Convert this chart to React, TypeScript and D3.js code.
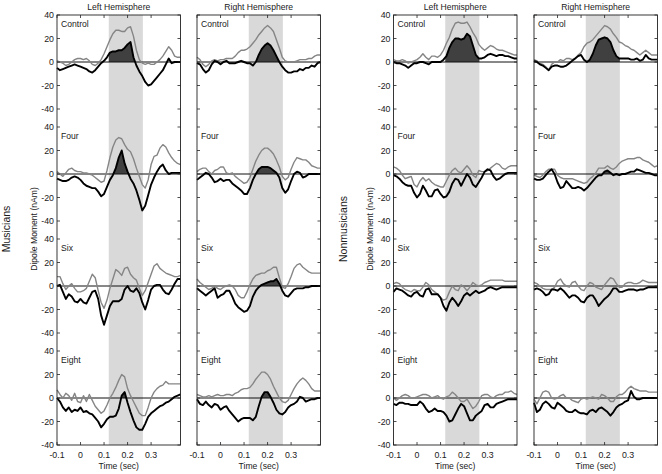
import React from "react";
import * as d3 from "d3";

// ---------- labels / ticks ----------
const groups = ["Musicians", "Nonmusicians"];
const hemispheres = ["Left Hemisphere", "Right Hemisphere"];
const conditions = ["Control", "Four", "Six", "Eight"];
const yTicks = [40, 20, 0, -20, -40];
const xTicks = [-0.1, 0, 0.1, 0.2, 0.3];
const shadeWindow = [0.12, 0.265];
const timeStart = -0.1;
const timeStep = 0.0125;
const timeEnd = 0.425;

// ---------- data (nAm), sampled every 12.5 ms from -0.1 s ----------
// Musicians, left hemisphere
const musLControlGray = [1,0,-1,-3,-2,0,2,3,3,2,3,1,-2,-3,-1,2,7,13,19,24,27,27,26,26,29,30,22,10,2,-1,-2,-1,-2,-2,0,2,5,9,13,10,5,4,4];
const musLControlBlack = [-5,-7,-6,-5,-4,-3,-2,-3,-4,-5,-6,-8,-9,-7,-4,-1,1,4,8,9,9,10,10,12,15,17,4,-3,-8,-12,-17,-20,-19,-16,-13,-10,-7,-2,3,-1,0,0,0];
const musLFourGray = [2,0,-2,1,4,5,3,2,2,1,1,0,-1,-3,-5,-7,-6,3,14,23,29,31,30,25,21,19,13,5,-2,-9,-12,-5,8,15,16,22,25,23,18,14,11,9,8];
const musLFourBlack = [-4,-5,-6,-6,-5,-3,-2,-3,-5,-8,-10,-11,-12,-12,-15,-19,-17,-11,-5,-1,5,14,20,9,2,-4,-8,-14,-22,-31,-27,-18,-9,-3,2,6,8,3,0,1,1,1,1];
const musLSixGray = [8,8,2,-3,0,2,-2,-5,-5,-4,-2,4,10,7,-4,-14,-19,-12,-2,6,14,12,9,15,16,10,7,5,-2,-8,-4,3,10,17,19,15,13,11,10,9,8,8,9];
const musLSixBlack = [0,1,-5,-11,-7,-9,-13,-14,-11,-14,-15,-10,-5,-4,-11,-25,-33,-25,-17,-13,-13,-13,-11,-3,0,-4,-5,-2,-6,-14,-20,-12,-3,0,1,1,-3,-6,-7,-3,2,6,6];
const musLEightGray = [7,3,0,4,2,-2,4,-3,-4,2,-3,3,-2,-7,-10,-13,-11,-6,0,4,9,15,20,18,8,2,-3,-8,-13,-15,-15,-8,0,5,8,10,11,14,12,12,12,12,12];
const musLEightBlack = [0,-3,-8,-11,-8,-12,-10,-11,-8,-12,-11,-13,-14,-17,-20,-25,-22,-18,-16,-16,-15,-9,2,5,-4,-12,-19,-25,-27,-27,-22,-16,-13,-11,-9,-7,-6,-4,-3,-1,1,2,3];
// Musicians, right hemisphere
const musRControlGray = [4,2,-2,-4,-2,1,2,1,2,2,3,3,3,5,8,10,10,11,13,16,19,23,26,29,31,29,26,19,12,4,1,0,0,0,1,2,2,2,3,3,5,6,6];
const musRControlBlack = [-1,-2,-6,-9,-7,-2,1,0,-2,0,1,-1,-1,-1,0,1,0,-1,-1,-3,0,6,11,14,16,14,10,5,0,-4,-7,-9,-9,-8,-8,-6,-7,-5,-5,-3,-4,-1,0];
const musRFourGray = [2,4,5,5,2,0,3,4,6,6,1,0,1,-2,-4,-6,-8,-7,-3,4,11,16,20,22,22,20,17,12,6,-2,-5,-3,4,10,14,13,12,12,10,7,6,5,5];
const musRFourBlack = [-5,-3,-1,1,0,-3,-7,-6,-4,-6,-5,-5,-8,-10,-12,-14,-17,-17,-12,-5,0,4,6,6,6,5,3,1,-3,-12,-16,-13,-6,0,2,1,-3,-2,0,0,0,0,0];
const musRSixGray = [6,3,1,-1,-3,-2,0,-2,-3,-1,0,1,0,-3,-8,-10,-10,-5,1,6,9,10,11,11,13,14,16,16,7,-1,-2,2,8,15,18,19,16,14,12,11,11,11,11];
const musRSixBlack = [-2,-4,-6,-8,-6,-4,-2,-10,-8,-7,-4,-4,-9,-15,-18,-20,-22,-21,-17,-9,-4,-1,1,2,3,4,4,6,2,-4,-8,-9,-6,-3,-2,-2,-2,-1,-1,0,0,0,0];
const musREightGray = [3,2,1,1,2,1,2,3,2,2,3,3,2,4,5,7,8,8,9,12,16,19,22,22,20,16,10,5,0,-3,-4,-2,3,8,12,15,17,15,12,8,6,6,6];
const musREightBlack = [-1,-5,-6,-3,-6,-8,-5,-6,-10,-8,-7,-11,-14,-17,-20,-18,-17,-17,-17,-19,-16,-7,1,5,5,1,-4,-10,-13,-14,-12,-8,-6,-5,-3,1,0,-3,-2,-1,-1,0,0];
// Nonmusicians, left hemisphere
const nonLControlGray = [2,1,1,2,1,-1,0,1,2,4,7,4,2,5,5,4,6,10,16,21,28,33,34,33,33,34,30,25,21,15,12,10,12,14,13,11,10,10,9,8,7,6,6];
const nonLControlBlack = [0,-1,-1,-2,-3,-5,-3,-1,-1,0,0,-1,-2,0,0,0,0,2,5,12,17,20,20,19,20,24,22,14,6,3,3,4,6,7,6,5,6,6,5,5,4,3,3];
const nonLFourGray = [6,5,3,-1,-4,-3,-2,-9,-11,-6,-3,-6,-4,-7,-9,-10,-11,-11,-6,-1,3,5,2,1,4,7,4,-1,-3,3,2,2,3,5,7,9,8,5,4,6,7,7,7];
const nonLFourBlack = [-1,-2,-4,-7,-9,-10,-10,-16,-20,-17,-10,-14,-19,-19,-14,-13,-17,-20,-19,-15,-8,-4,-5,-10,-5,0,-3,-9,-11,-7,-3,2,4,3,-2,-5,-4,-2,0,1,1,1,1];
const nonLSixGray = [2,3,2,-1,-3,-4,-5,-3,-4,-4,-1,3,1,-3,-5,-7,-10,-12,-11,-5,0,-3,-4,1,-1,-4,-1,3,1,0,1,3,4,5,5,5,5,5,4,4,4,4,4];
const nonLSixBlack = [-5,-2,-3,-4,-6,-8,-9,-6,-5,-8,-9,-3,-2,-7,-7,-7,-10,-17,-21,-14,-10,-13,-17,-13,-8,-6,-8,-6,-4,-6,-5,-4,-2,-1,-2,-3,-2,-1,-1,-1,-1,-1,-1];
const nonLEightGray = [0,-2,0,2,3,2,0,0,1,2,3,3,2,0,1,2,0,-1,1,2,5,3,0,-3,-3,-1,-5,-9,-7,-3,2,3,3,1,0,2,3,3,5,5,6,4,3];
const nonLEightBlack = [-5,-6,-4,-4,-5,-5,-6,-6,-6,-3,-5,-9,-12,-11,-9,-11,-11,-12,-15,-20,-19,-14,-9,-5,-7,-13,-19,-19,-15,-13,-11,-6,-5,-8,-8,-5,-4,-3,-2,-1,-1,-1,-1];
// Nonmusicians, right hemisphere
const nonRControlGray = [2,1,-1,-2,-4,-7,-2,0,0,2,1,3,3,2,3,6,8,13,16,17,19,22,25,28,31,30,28,24,21,17,16,14,13,11,10,8,6,8,10,8,6,6,6];
const nonRControlBlack = [1,0,-2,-3,-5,-7,-4,-3,-3,-4,-4,-3,-1,1,3,5,6,2,0,2,7,14,19,20,21,20,17,10,5,3,3,3,3,2,2,3,1,2,6,3,2,2,2];
const nonRFourGray = [-1,-2,-3,-1,2,4,4,4,-1,-3,-4,-4,-4,-4,-5,-6,-7,-8,-7,-4,-2,1,5,5,5,7,5,4,6,9,11,12,13,13,13,14,14,12,11,10,8,6,7];
const nonRFourBlack = [-4,-5,-5,-4,-1,2,4,0,-7,-12,-11,-6,-9,-12,-12,-11,-12,-14,-12,-9,-6,-3,-1,-1,2,3,1,-1,0,-1,0,0,1,2,2,4,3,2,1,1,0,-1,-1];
const nonRSixGray = [3,2,0,-2,-3,-3,-3,-1,4,6,2,0,-1,3,4,0,-3,-4,0,3,2,-1,-2,-3,1,4,7,6,2,-1,-1,2,3,3,2,2,3,5,4,3,3,3,3];
const nonRSixBlack = [-3,-2,-3,-5,-8,-7,-3,-3,-4,-2,-4,-7,-10,-8,-8,-10,-13,-14,-10,-8,-8,-12,-17,-14,-11,-9,-6,-2,-2,-5,-5,-4,-3,-3,-3,-4,-3,-3,-2,-1,-1,-1,-1];
const nonREightGray = [-1,-5,0,5,6,5,0,-1,0,2,3,0,0,-2,-3,-4,-1,0,-1,0,1,0,-1,3,2,0,-3,-3,1,3,3,5,8,10,8,7,6,6,6,5,5,5,5];
const nonREightBlack = [-4,-12,-10,-5,-3,-5,-8,-9,-4,-6,-8,-11,-12,-12,-10,-12,-13,-13,-14,-11,-10,-12,-9,-8,-10,-12,-15,-12,-8,-6,-5,-3,-2,6,1,-1,-1,0,0,0,0,0,0];

const panelData = [
  [[musLControlGray, musLControlBlack], [musLFourGray, musLFourBlack], [musLSixGray, musLSixBlack], [musLEightGray, musLEightBlack]],
  [[musRControlGray, musRControlBlack], [musRFourGray, musRFourBlack], [musRSixGray, musRSixBlack], [musREightGray, musREightBlack]],
  [[nonLControlGray, nonLControlBlack], [nonLFourGray, nonLFourBlack], [nonLSixGray, nonLSixBlack], [nonLEightGray, nonLEightBlack]],
  [[nonRControlGray, nonRControlBlack], [nonRFourGray, nonRFourBlack], [nonRSixGray, nonRSixBlack], [nonREightGray, nonREightBlack]],
];

// ---------- layout ----------
const W = 662;
const H = 474;
const FONT = "'Liberation Sans', Arial, Helvetica, sans-serif";
const panelLefts = [57, 197, 393.5, 534];
const panelWidth = 123.5;
const frameTop = 15;
const frameBottom = 445;
const firstZero = 62;
const rowStep = 112;
const halfRange = 47;
const TXT = "#1a1a1a";

function fmt(v: number) {
  const r = Math.round(v * 10) / 10;
  return r === 0 ? "0" : String(r);
}

function Panel({ idx }: { idx: number }) {
  const left = panelLefts[idx];
  const right = left + panelWidth;
  const x = d3.scaleLinear().domain([timeStart, timeEnd]).range([left, right]);
  const rows = panelData[idx];
  const showY = idx % 2 === 0;
  const sx0 = x(shadeWindow[0]);
  const sx1 = x(shadeWindow[1]);
  const hemi = hemispheres[idx % 2];
  const cx = (left + right) / 2;
  return (
    <g>
      <rect x={left} y={frameTop} width={panelWidth} height={frameBottom - frameTop} fill="#fff" />
      <rect x={sx0} y={frameTop} width={sx1 - sx0} height={frameBottom - frameTop} fill="#d9d9d9" />
      {rows.map((pair, r) => {
        const zero = firstZero + r * rowStep;
        const y = d3.scaleLinear().domain([-40, 40]).range([zero + halfRange, zero - halfRange]);
        const pts = (arr: number[]) => arr.map((v, i) => [timeStart + i * timeStep, v] as [number, number]);
        const line = d3.line<[number, number]>().x(d => x(d[0])).y(d => y(d[1]));
        const area = d3.area<[number, number]>().x(d => x(d[0])).y0(y(0)).y1(d => y(d[1]));
        const clipId = `clip-${idx}-${r}`;
        return (
          <g key={r}>
            <defs>
              <clipPath id={clipId}>
                <rect x={sx0} y={y(40)} width={sx1 - sx0} height={y(0) - y(40)} />
              </clipPath>
            </defs>
            <path d={area(pts(pair[1])) || ""} fill="#404040" clipPath={`url(#${clipId})`} />
            <line x1={left} x2={right} y1={y(0)} y2={y(0)} stroke="#111" strokeWidth={1} />
            <path d={line(pts(pair[0])) || ""} fill="none" stroke="#858585" strokeWidth={1.4} strokeLinejoin="round" />
            <path d={line(pts(pair[1])) || ""} fill="none" stroke="#000" strokeWidth={1.9} strokeLinejoin="round" />
            {yTicks.map(t => (
              <g key={t}>
                <line x1={left} x2={left + 3} y1={y(t)} y2={y(t)} stroke="#222" strokeWidth={0.8} />
                <line x1={right - 3} x2={right} y1={y(t)} y2={y(t)} stroke="#222" strokeWidth={0.8} />
                {showY && (
                  <text x={left - 3} y={y(t) + 3} textAnchor="end" fontSize={8.8} fontFamily={FONT} fill={TXT}>
                    {t}
                  </text>
                )}
              </g>
            ))}
            <text x={left + 4} y={zero - 35} fontSize={8.6} fontFamily={FONT} fill={TXT}>
              {conditions[r]}
            </text>
          </g>
        );
      })}
      <rect x={left} y={frameTop} width={panelWidth} height={frameBottom - frameTop} fill="none" stroke="#222" strokeWidth={0.9} />
      {xTicks.map(t => (
        <g key={t}>
          <line x1={x(t)} x2={x(t)} y1={frameBottom} y2={frameBottom - 3} stroke="#222" strokeWidth={0.8} />
          <line x1={x(t)} x2={x(t)} y1={frameTop} y2={frameTop + 3} stroke="#222" strokeWidth={0.8} />
          <text x={x(t)} y={457.5} textAnchor="middle" fontSize={8.8} fontFamily={FONT} fill={TXT}>
            {fmt(t)}
          </text>
        </g>
      ))}
      <text x={cx} y={469} textAnchor="middle" fontSize={8.6} fontFamily={FONT} fill={TXT}>Time (sec)</text>
      <text x={cx} y={10} textAnchor="middle" fontSize={8.6} fontFamily={FONT} fill={TXT}>{hemi}</text>
    </g>
  );
}

export default function App() {
  return (
    <svg width={W} height={H} viewBox={`0 0 ${W} ${H}`} style={{ position: "absolute", left: 0, top: 0, background: "#fff" }}>
      <rect x={0} y={0} width={W} height={H} fill="#fff" />
      {[0, 1, 2, 3].map(i => <Panel key={i} idx={i} />)}
      {groups.map((g, gi) => {
        const left = panelLefts[gi * 2];
        return (
          <g key={g}>
            <text transform={`translate(${left - 47},229) rotate(-90)`} textAnchor="middle" fontSize={10.5} fontFamily={FONT} fill={TXT}>{g}</text>
            <text transform={`translate(${left - 20.5},229) rotate(-90)`} textAnchor="middle" fontSize={8.6} fontFamily={FONT} fill={TXT}>Dipole Moment (nAm)</text>
          </g>
        );
      })}
    </svg>
  );
}
